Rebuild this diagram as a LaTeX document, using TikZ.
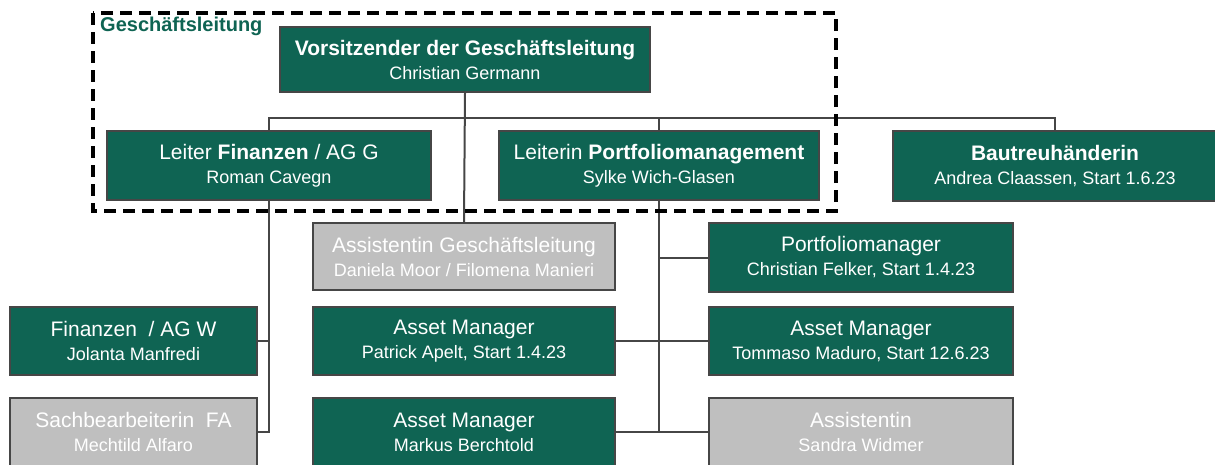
\documentclass[tikz,border=0pt]{standalone}
\usepackage{fontspec}
\setmainfont{Liberation Sans}
\usetikzlibrary{calc}
\definecolor{gruen}{RGB}{15,100,83}
\definecolor{rahmen}{RGB}{70,70,70}
\definecolor{grau}{RGB}{191,191,191}
\newcommand{\zweite}[1]{{\fontsize{18}{22}\selectfont #1}}
\begin{document}
\begin{tikzpicture}[x=1pt,y=-1pt]

	\useasboundingbox (0,0) rectangle (1215,464);
	\def \bus{118}
	\tikzstyle{o-box}=[draw=rahmen,line width=1.5pt,fill=gruen,text=white,align=center,inner sep=0pt,font=\fontsize{21}{24}\selectfont]
	\tikzstyle{g-box}=[o-box,fill=grau]
	\tikzstyle{linie}=[draw=rahmen,line width=2pt]

	% Geschaeftsleitung
	\node[o-box,minimum width=370pt,minimum height=65pt] (vorsitz) at (465,59.5) {\textbf{Vorsitzender der Geschäftsleitung}\\\zweite{Christian Germann}};
	\node[o-box,minimum width=324pt,minimum height=69pt] (finanzen) at (269,165.5) {Leiter \textbf{Finanzen} / AG G\\\zweite{Roman Cavegn}};
	\node[o-box,minimum width=320pt,minimum height=69pt] (portfolio) at (659,165.5) {Leiterin \textbf{Portfoliomanagement}\\\zweite{Sylke Wich-Glasen}};
	\node[o-box,minimum width=324pt,minimum height=70pt] (bautreu) at (1055,166) {\textbf{Bautreuhänderin}\\\zweite{Andrea Claassen, Start 1.6.23}};

	% Mitte
	\node[g-box,minimum width=302pt,minimum height=67pt] (assgl) at (464,256.5) {Assistentin Geschäftsleitung\\\zweite{Daniela Moor / Filomena Manieri}};
	\node[o-box,minimum width=302pt,minimum height=68pt] (am1) at (464,341) {Asset Manager\\\zweite{Patrick Apelt, Start 1.4.23}};
	\node[o-box,minimum width=302pt,minimum height=68pt] (am3) at (464,432) {Asset Manager\\\zweite{Markus Berchtold}};

	% Finanzen
	\node[o-box,minimum width=247pt,minimum height=68pt] (finw) at (133.5,341) {Finanzen \ / AG W\\\zweite{Jolanta Manfredi}};
	\node[g-box,minimum width=247pt,minimum height=68pt] (sachb) at (133.5,432) {Sachbearbeiterin \ FA\\\zweite{Mechtild Alfaro}};

	% Portfolio
	\node[o-box,minimum width=304pt,minimum height=69pt] (pfm) at (861,257.5) {Portfoliomanager\\\zweite{Christian Felker, Start 1.4.23}};
	\node[o-box,minimum width=304pt,minimum height=68pt] (am2) at (861,341) {Asset Manager\\\zweite{Tommaso Maduro, Start 12.6.23}};
	\node[g-box,minimum width=304pt,minimum height=68pt] (assist) at (861,432) {Assistentin\\\zweite{Sandra Widmer}};

	% Linien
	\coordinate (b) at (0,\bus);
	\draw[linie] (vorsitz.south) -- (assgl.north);
	\draw[linie] (finanzen.north) -- (finanzen.north |- b) -- (bautreu.north |- b) -- (bautreu.north);
	\draw[linie] (portfolio.north) -- (portfolio.north |- b);
	\draw[linie] (finanzen.south) -- (finanzen.south |- sachb) -- (sachb.east);
	\draw[linie] (finw.east) -- (finanzen.south |- finw);
	\draw[linie] (portfolio.south) -- (portfolio.south |- assist) -- (assist.west);
	\draw[linie] (pfm.west) -- (portfolio.south |- pfm);
	\draw[linie] (am1.east) -- (am2.west);
	\draw[linie] (am3.east) -- (portfolio.south |- am3);

	% Rahmen
	\draw[black,line width=3.5pt,dash pattern=on 12pt off 7pt] (93,13) rectangle (836,211);
	\node[anchor=north west,inner sep=0pt,text=gruen,font=\fontsize{20}{24}\selectfont\bfseries] (gl) at (100,17) {Geschäftsleitung};
\end{tikzpicture}
\end{document}
